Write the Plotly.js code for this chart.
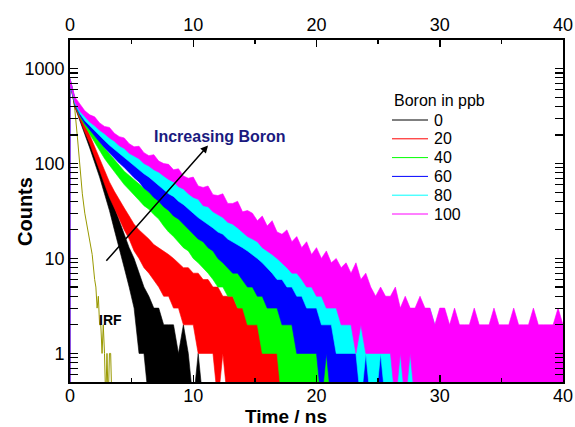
<!DOCTYPE html>
<html>
<head>
<meta charset="utf-8">
<script src="https://cdn.plot.ly/plotly-3.0.1.min.js"></script>
<style>
html,body{margin:0;padding:0;background:#fff;}
#chart{width:575px;height:427px;}
</style>
</head>
<body>
<div id="chart"></div>
<script>
// ================= DATA =================
// Each decay is read off the picture as a noisy band: the upper (Hi) and lower (Lo)
// edge of the counts, per 0.4 ns channel. First entry = rising edge at t = 0.
const legendTitle = "Boron in ppb";
const seriesNames = ["0", "20", "40", "60", "80", "100"];
const seriesColors = ["#000000", "#ff0000", "#00ff00", "#0000ff", "#00ffff", "#ff00ff"];
const xTickVals = [0, 10, 20, 30, 40];
const yTickVals = [1, 10, 100, 1000];

// channel times: rising edge at 0, then 0, 0.4, 0.8, ... 40 ns
const time = [0];
for (let k = 0; k <= 100; k++) time.push(Math.round(k * 4) / 10);

const boron0Hi = [0,780, 449,324,243,181,133,97,69,49,34,25, 18,13,10,7,5,4,3,3,2,2, 2,1,2,1,0,1,0,0,0,0];
const boron0Lo = [0,700, 393,277,203,146,104,72,48,32,20,13, 8,5,3,1,1,0,0,0,0,0, 0,0,0,0,0,0,0,0,0,0];

const boron20Hi = [0,780, 456,335,258,200,152,112,84,64,51,41, 34,28,23,20,18,16,14,13,12,11,
  10,9,8,8,7,7,6,6,5,5, 4,4,4,3,3,3,2,3,2,2, 2,2,2,1,2,1,1,1,1,1, 1,0,1,0,1,0,0,0,0,0];
const boron20Lo = [0,700, 398,287,215,163,120,85,61,44,34,26, 20,16,12,10,8,7,6,5,4,4,
  3,3,2,2,2,1,1,1,1,0, 1,0,0,0,0,0,0,0,0,0, 0,0,0,0,0,0,0,0,0,0, 0,0,0,0,0,0,0,0,0,0];

const boron40Hi = [0,780, 472,362,296,244,204,170,146,126,110,95, 83,75,67,61,55,50,46,42,37,34,
  31,28,25,23,21,19,18,16,15,14, 13,12,11,10,9,9,8,7,7,6, 6,5,5,4,4,4,3,3,3,3,
  2,2,2,2,1,2,1,1,1,1, 1,0,1,0,0,0,0,0,0,0];
const boron40Lo = [0,700, 413,311,249,203,165,136,113,96,82,69, 60,53,46,41,36,33,29,26,22,19,
  17,15,13,12,10,9,8,7,6,5, 5,4,4,3,3,2,2,2,1,1, 1,1,0,0,0,0,0,0,0,0,
  0,0,0,0,0,0,0,0,0,0, 0,0,0,0,0,0,0,0,0,0];

const boron60Hi = [0,780, 478,376,312,270,236,206,184,163,146,131, 120,108,98,88,79,72,66,59,55,49,
  45,42,37,35,31,29,27,24,23,21, 19,18,16,15,14,13,12,11,11,10, 9,9,8,8,7,7,6,6,5,5,
  5,4,4,4,3,4,3,3,3,3, 2,3,2,2,2,2,1,2,1,1, 1,1,1,0,1,0,0,1,0,0];
const boron60Lo = [0,700, 418,321,263,225,193,169,147,129,114,101, 91,80,71,64,55,50,44,40,35,32,
  28,26,23,20,18,16,15,13,12,10, 9,8,7,7,6,5,5,4,4,3, 3,3,2,2,2,1,1,1,1,1,
  0,1,0,0,0,0,0,0,0,0, 0,0,0,0,0,0,0,0,0,0, 0,0,0,0,0,0,0,0,0,0];

const boron80Hi = [0,780, 488,392,330,300,262,238,212,196,174,162, 148,135,126,114,106,98,92,84,78,72,
  66,62,55,52,48,45,41,39,36,34, 31,31,27,28,24,24,22,21,20,17, 17,15,15,13,12,12,10,10,9,9,
  8,7,7,6,6,6,5,5,4,5, 4,4,3,4,3,3,3,3,2,3, 2,2,3,2,2,2,1,2,2,1, 1,1,2,1,1,1,0,1,0,0];
const boron80Lo = [0,700, 427,336,283,250,220,196,175,156,141,127, 115,104,94,86,78,72,65,59,54,48,
  45,40,37,33,30,27,25,23,21,19, 18,16,15,14,13,12,11,10,9,8, 7,6,6,5,5,4,4,3,3,3,
  2,2,2,1,1,1,1,1,0,1, 0,0,1,0,0,0,0,0,0,0, 0,0,0,0,0,0,0,0,0,0, 0,0,0,0,0,0,0,0,0,0];

const boron100Hi = [0,780, 500,430,360,326,310,268,246,240,208,192, 186,162,150,152,130,121,124,106,100,98,
  86,88,74,70,72,58,56,58,47,46, 48,38,38,40,31,32,30,25,28,22, 25,19,18,20,15,17,13,15,11,13,
  10,12,9,10,8,9,7,9,6,7, 5,4,5,4,4,5,3,4,3,3, 4,3,3,2,3,3,2,3,2,2,
  2,3,2,2,2,3,2,2,2,3, 2,2,2,3,2,2,2,2,3,2];
const boron100Lo = [0,700, 440,356,312,274,250,224,206,186,172,154, 144,128,120,112,100,94,86,81,74,68,
  64,57,54,48,44,42,36,35,31,29, 27,24,23,21,19,17,16,15,13,12, 11,10,9,8,7,7,6,5,5,4,
  4,3,3,3,2,2,2,1,2,1, 1,1,1,1,1,0,1,0,1,0, 0,0,0,0,0,0,0,0,0,0,
  0,0,0,0,0,0,0,0,0,0, 0,0,0,0,0,0,0,0,0,0];

// instrument response function
const irfTime = [0,0,0.2,0.4,0.6,0.8,1.0,1.2,1.4,1.6,1.8,2.0,2.1,2.2,2.3,2.4,2.5,2.6,2.7,2.8,2.9,3.0,3.1,3.2,3.3,3.4];
const irf     = [0,760,560,360,190,95,48,30,21,15,11,6,5,3,4,2,2,1,2,1,0,1,0,1,1,0];

// ================= DRAWING =================
const bandsHi = [boron0Hi, boron20Hi, boron40Hi, boron60Hi, boron80Hi, boron100Hi];
const bandsLo = [boron0Lo, boron20Lo, boron40Lo, boron60Lo, boron80Lo, boron100Lo];
// zero counts cannot sit on a log axis: send them just below the visible range
const ZERO_FLOOR = 0.3;
const floorZeros = arr => arr.map(v => (v > 0 ? v : ZERO_FLOOR));

const traces = [{
  x: irfTime, y: floorZeros(irf), type: "scatter", mode: "lines",
  line: {color: "#999900", width: 1}, showlegend: false, hoverinfo: "skip"
}];
bandsHi.forEach((hi, i) => {
  const lo = bandsLo[i];
  const xa = (i === bandsHi.length - 1) ? "x2" : "x"; // last band also carries the top axis
  traces.push({
    x: time.slice(0, lo.length), y: floorZeros(lo), type: "scatter", mode: "lines",
    xaxis: xa, yaxis: "y",
    line: {color: seriesColors[i], width: 0.6}, showlegend: false, hoverinfo: "skip"
  });
  traces.push({
    x: time.slice(0, hi.length), y: floorZeros(hi), type: "scatter", mode: "lines",
    xaxis: xa, yaxis: "y",
    fill: "tonexty", fillcolor: seriesColors[i],
    line: {color: seriesColors[i], width: 0.6}, showlegend: false, hoverinfo: "skip"
  });
});

const FONT = "Liberation Sans, Arial, Helvetica, sans-serif";
const yr = [Math.log10(0.5), Math.log10(2000)];
const W = 575, H = 427, M = {l: 70, r: 12, t: 40, b: 45};
const PW = W - M.l - M.r, PH = H - M.t - M.b;
const px = x => (x - M.l) / PW;          // pixel -> paper x
const py = y => (H - M.b - y) / PH;      // pixel -> paper y

const baseX = {
  range: [0, 40], tickmode: "array", tickvals: xTickVals,
  ticks: "inside", ticklen: 7, tickwidth: 1.5, tickcolor: "#000",
  minor: {ticks: "inside", ticklen: 4, tickwidth: 1.5, tickcolor: "#000", dtick: 5, tick0: 0, showgrid: false},
  showline: true, linewidth: 1.8, linecolor: "#000",
  showgrid: false, zeroline: false, automargin: false,
  tickfont: {family: FONT, size: 18, color: "#000"}
};

// manual legend (title, sample lines, labels)
const legShapes = [], legAnn = [];
legAnn.push({xref: "paper", yref: "paper", x: px(392), y: py(101), xanchor: "left", yanchor: "middle",
  text: legendTitle, showarrow: false, font: {family: FONT, size: 16, color: "#000"}});
seriesNames.forEach((nm, i) => {
  const yy = py(120 + i * 18.8);
  legShapes.push({type: "line", xref: "paper", yref: "paper", x0: px(392), x1: px(428), y0: yy, y1: yy,
    line: {color: seriesColors[i], width: 1}});
  legAnn.push({xref: "paper", yref: "paper", x: px(432), y: yy, xanchor: "left", yanchor: "middle",
    text: nm, showarrow: false, font: {family: FONT, size: 16, color: "#000"}});
});

const layout = {
  width: W, height: H, margin: M,
  paper_bgcolor: "#fff", plot_bgcolor: "#fff",
  font: {family: FONT, color: "#000"},
  showlegend: false,
  xaxis: Object.assign({}, baseX, {anchor: "y", side: "bottom", ticklabelstandoff: -3}),
  xaxis2: Object.assign({}, baseX, {overlaying: "x", anchor: "y", side: "top", matches: "x"}),
  yaxis: {
    type: "log", range: yr, tickmode: "array", tickvals: yTickVals, ticktext: yTickVals.map(String),
    ticks: "inside", ticklen: 8, tickwidth: 1.5, tickcolor: "#000",
    minor: {ticks: "inside", ticklen: 4, tickwidth: 1.2, tickcolor: "#000", dtick: "D1", showgrid: false},
    showline: true, linewidth: 1.8, linecolor: "#000", mirror: "allticks",
    showgrid: false, zeroline: false, automargin: false,
    tickfont: {family: FONT, size: 18, color: "#000"}
  },
  shapes: legShapes,
  annotations: [
    {xref: "x", yref: "y", x: 11.2, y: Math.log10(155), axref: "x", ayref: "y",
     ax: 2.84, ay: Math.log10(9.1), text: "", showarrow: true,
     arrowhead: 2, arrowsize: 1, arrowwidth: 1.5, arrowcolor: "#000"},
    {xref: "x", yref: "y", x: 12.15, y: Math.log10(192), text: "<b>Increasing Boron</b>",
     showarrow: false, font: {family: FONT, size: 16, color: "#1a1a80"}},
    {xref: "x", yref: "y", x: 3.3, y: Math.log10(2.25), text: "<b>IRF</b>",
     showarrow: false, font: {family: FONT, size: 14, color: "#000"}},
    {xref: "paper", yref: "paper", x: px(286), y: py(416), xanchor: "center", yanchor: "middle",
     text: "<b>Time / ns</b>", showarrow: false, font: {family: FONT, size: 19, color: "#000"}},
    {xref: "paper", yref: "paper", x: px(25), y: py(212), xanchor: "center", yanchor: "middle",
     text: "<b>Counts</b>", textangle: -90, showarrow: false, font: {family: FONT, size: 20, color: "#000"}}
  ].concat(legAnn)
};

Plotly.newPlot("chart", traces, layout, {staticPlot: true, displayModeBar: false});
</script>
</body>
</html>
